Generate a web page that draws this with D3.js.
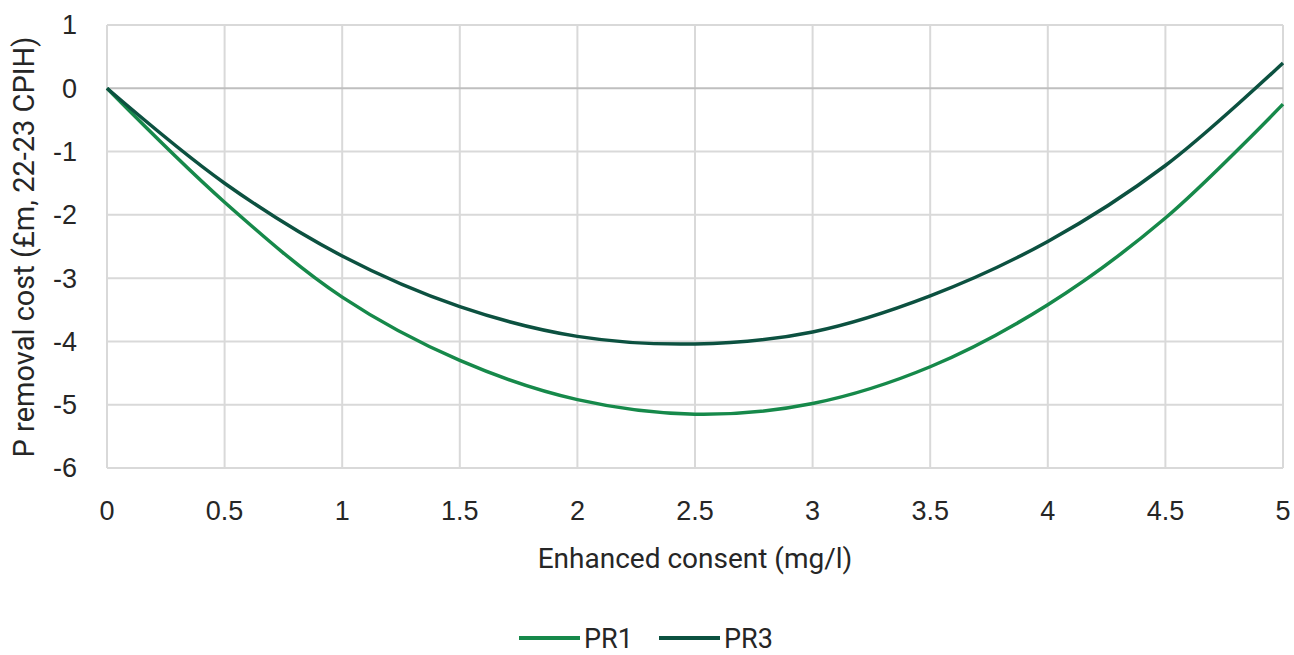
<!DOCTYPE html>
<html>
<head>
<meta charset="utf-8">
<script src="https://cdn.jsdelivr.net/npm/d3@7"></script>
<style>
  body { margin: 0; background: white; }
  text { fill: #262626; }
  .tick-label { font-family: "Liberation Sans", Arial, sans-serif; }
  .title, .legend text { font-family: Roboto, "Open Sans", sans-serif; }
</style>
</head>
<body>
<div id="container"></div>
<script>
let w = 1294;
let h = 655;

// DATA
let consent = [0, 0.5, 1, 1.5, 2, 2.5, 3, 3.5, 4, 4.5, 5];
let pr1 = [0, -1.8, -3.3, -4.3, -4.92, -5.15, -4.98, -4.4, -3.42, -2.05, -0.25];
let pr3 = [0, -1.5, -2.65, -3.45, -3.92, -4.04, -3.85, -3.28, -2.42, -1.22, 0.4];
let xTicks = [0, 0.5, 1, 1.5, 2, 2.5, 3, 3.5, 4, 4.5, 5];
let yTicks = [1, 0, -1, -2, -3, -4, -5, -6];
let seriesNames = ["PR1", "PR3"];
let seriesColors = ["#16894a", "#0c5140"];

let series = [
  { name: seriesNames[0], color: seriesColors[0], values: pr1 },
  { name: seriesNames[1], color: seriesColors[1], values: pr3 }
];

let viz = d3.select("#container").append("svg")
  .attr("width", w)
  .attr("height", h)

let xScale = d3.scaleLinear().domain([0, 5]).range([107, 1283]);
let yScale = d3.scaleLinear().domain([-6, 1]).range([468, 25]);

// gridlines
viz.selectAll(".vgrid").data(xTicks).enter()
  .append("line")
  .attr("class", "vgrid")
  .attr("x1", d => xScale(d)).attr("x2", d => xScale(d))
  .attr("y1", yScale(1)).attr("y2", yScale(-6))
  .attr("stroke", "#d9d9d9")
  .attr("stroke-width", 2)

viz.selectAll(".hgrid").data(yTicks).enter()
  .append("line")
  .attr("class", "hgrid")
  .attr("x1", xScale(0)).attr("x2", xScale(5))
  .attr("y1", d => yScale(d)).attr("y2", d => yScale(d))
  .attr("stroke", d => d == 0 ? "#bfbfbf" : "#d9d9d9")
  .attr("stroke-width", 2)

// tick labels
viz.selectAll(".xlabel").data(xTicks).enter()
  .append("text")
  .attr("class", "xlabel tick-label")
  .attr("x", d => xScale(d))
  .attr("y", 520)
  .attr("text-anchor", "middle")
  .attr("font-size", 27)
  .text(d => d)

viz.selectAll(".ylabel").data(yTicks).enter()
  .append("text")
  .attr("class", "ylabel tick-label")
  .attr("x", 77)
  .attr("y", d => yScale(d))
  .attr("dy", "0.35em")
  .attr("text-anchor", "end")
  .attr("font-size", 27)
  .text(d => d)

// axis titles
viz.append("text")
  .attr("class", "title")
  .attr("x", xScale(2.5))
  .attr("y", 568)
  .attr("text-anchor", "middle")
  .attr("font-size", 28)
  .text("Enhanced consent (mg/l)")

viz.append("text")
  .attr("class", "title")
  .attr("transform", "translate(34,247) rotate(-90)")
  .attr("text-anchor", "middle")
  .attr("font-size", 29)
  .text("P removal cost (£m, 22-23 CPIH)")

// lines
let lineMaker = d3.line()
  .x((d, i) => xScale(consent[i]))
  .y(d => yScale(d))
  .curve(d3.curveCatmullRom)

viz.selectAll(".series").data(series).enter()
  .append("path")
  .attr("class", "series")
  .attr("d", d => lineMaker(d.values))
  .attr("fill", "none")
  .attr("stroke", d => d.color)
  .attr("stroke-width", 3.5)

// legend
let legend = viz.selectAll(".legend").data(series).enter()
  .append("g")
  .attr("class", "legend")
  .attr("transform", (d, i) => "translate(" + (519 + i * 140) + ",638)")

legend.append("line")
  .attr("x1", 0).attr("x2", 61)
  .attr("stroke", d => d.color)
  .attr("stroke-width", 4)

legend.append("text")
  .attr("x", 65)
  .attr("dy", "0.36em")
  .attr("font-size", 27)
  .text(d => d.name)
</script>
</body>
</html>
